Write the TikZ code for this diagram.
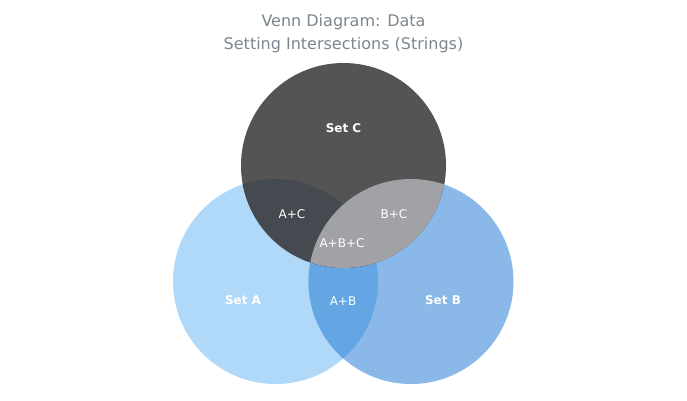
\documentclass[tikz,border=0pt]{standalone}
\usepackage{fontspec}
\setmainfont{DejaVu Sans}
\begin{document}
\definecolor{setA}{RGB}{176,216,249}
\definecolor{setB}{RGB}{138,184,232}
\definecolor{setAB}{RGB}{99,166,227}
\definecolor{setC}{RGB}{84,84,84}
\definecolor{setAC}{RGB}{69,74,80}
\definecolor{setBC}{RGB}{160,162,165}
\definecolor{titlegray}{RGB}{124,134,142}
\begin{tikzpicture}[x=1pt,y=-1pt,
  title/.style={text=titlegray,font=\fontsize{16}{18}\selectfont},
  setlabel/.style={text=white,font=\bfseries\fontsize{12}{14}\selectfont},
  partlabel/.style={text=white,font=\fontsize{12}{14}\selectfont}]
\useasboundingbox[fill=white] (0,0) rectangle (687,400);
\def\rad{102.5}
\coordinate (ca) at (275.5,281.5);
\coordinate (cb) at (411,281.5);
\coordinate (cc) at (343.5,165.5);
% base circles A and B
\fill[setA] (ca) circle[radius=\rad];
\fill[setB] (cb) circle[radius=\rad];
\begin{scope}
  \clip (ca) circle[radius=\rad];
  \fill[setAB] (cb) circle[radius=\rad];
\end{scope}
% circle C on top, with its overlaps
\fill[setC] (cc) circle[radius=\rad];
\begin{scope}
  \clip (cc) circle[radius=\rad];
  \fill[setAC] (ca) circle[radius=\rad];
  \fill[setBC] (cb) circle[radius=\rad];
\end{scope}
% title
\node[title] (t1) at (343.5,22) {Venn Diagram: Data};
\node[title] (t2) at (343.5,45) {Setting Intersections (Strings)};
% labels
\node[setlabel] (la) at (243,300) {Set A};
\node[setlabel] (lb) at (443,300) {Set B};
\node[setlabel] (lc) at (343.5,128) {Set C};
\node[partlabel] (lab) at (343,301) {A+B};
\node[partlabel] (lac) at (292,214) {A+C};
\node[partlabel] (lbc) at (394,214) {B+C};
\node[partlabel] (labc) at (342,243) {A+B+C};
\end{tikzpicture}
\end{document}
